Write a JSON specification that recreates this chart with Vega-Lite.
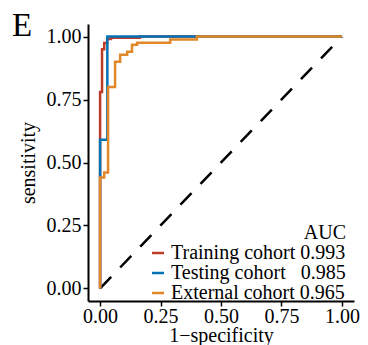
{
  "$schema": "https://vega.github.io/schema/vega-lite/v6.json",
  "autosize": "none",
  "width": 266,
  "height": 277,
  "padding": {"left": 88, "top": 24, "right": 14, "bottom": 44},
  "background": "white",
  "title": {"text": "E", "anchor": "start", "frame": "group", "font": "Liberation Serif", "fontSize": 33, "fontWeight": "normal", "color": "black", "baseline": "alphabetic", "offset": -45, "dx": -76},
  "config": {
    "view": {"stroke": null},
    "font": "Liberation Serif",
    "axis": {"grid": false, "domainColor": "black", "domainWidth": 2, "tickColor": "black", "tickWidth": 1.5, "tickSize": 5, "labelColor": "black", "labelFont": "Liberation Serif", "labelFontSize": 20, "titleFont": "Liberation Serif", "titleFontSize": 20, "titleFontWeight": "normal", "titleColor": "black", "labelPadding": 2}
  },
  "data": {"values": [
    {"cohort": "Training cohort", "fpr": 0, "tpr": 0},
    {"cohort": "Training cohort", "fpr": 0, "tpr": 0.78},
    {"cohort": "Training cohort", "fpr": 0.008, "tpr": 0.78},
    {"cohort": "Training cohort", "fpr": 0.008, "tpr": 0.95},
    {"cohort": "Training cohort", "fpr": 0.017, "tpr": 0.95},
    {"cohort": "Training cohort", "fpr": 0.017, "tpr": 0.975},
    {"cohort": "Training cohort", "fpr": 0.029, "tpr": 0.975},
    {"cohort": "Training cohort", "fpr": 0.029, "tpr": 0.99},
    {"cohort": "Training cohort", "fpr": 0.045, "tpr": 0.99},
    {"cohort": "Training cohort", "fpr": 0.045, "tpr": 0.995},
    {"cohort": "Training cohort", "fpr": 0.165, "tpr": 0.995},
    {"cohort": "Training cohort", "fpr": 0.165, "tpr": 1},
    {"cohort": "Training cohort", "fpr": 1, "tpr": 1},
    {"cohort": "Testing cohort", "fpr": 0, "tpr": 0},
    {"cohort": "Testing cohort", "fpr": 0, "tpr": 0.59},
    {"cohort": "Testing cohort", "fpr": 0.03, "tpr": 0.59},
    {"cohort": "Testing cohort", "fpr": 0.03, "tpr": 1},
    {"cohort": "Testing cohort", "fpr": 1, "tpr": 1},
    {"cohort": "External cohort", "fpr": 0, "tpr": 0},
    {"cohort": "External cohort", "fpr": 0, "tpr": 0.44},
    {"cohort": "External cohort", "fpr": 0.017, "tpr": 0.44},
    {"cohort": "External cohort", "fpr": 0.017, "tpr": 0.46},
    {"cohort": "External cohort", "fpr": 0.033, "tpr": 0.46},
    {"cohort": "External cohort", "fpr": 0.033, "tpr": 0.8},
    {"cohort": "External cohort", "fpr": 0.062, "tpr": 0.8},
    {"cohort": "External cohort", "fpr": 0.062, "tpr": 0.9},
    {"cohort": "External cohort", "fpr": 0.083, "tpr": 0.9},
    {"cohort": "External cohort", "fpr": 0.083, "tpr": 0.928},
    {"cohort": "External cohort", "fpr": 0.112, "tpr": 0.928},
    {"cohort": "External cohort", "fpr": 0.112, "tpr": 0.94},
    {"cohort": "External cohort", "fpr": 0.132, "tpr": 0.94},
    {"cohort": "External cohort", "fpr": 0.132, "tpr": 0.968},
    {"cohort": "External cohort", "fpr": 0.153, "tpr": 0.968},
    {"cohort": "External cohort", "fpr": 0.153, "tpr": 0.976},
    {"cohort": "External cohort", "fpr": 0.29, "tpr": 0.976},
    {"cohort": "External cohort", "fpr": 0.29, "tpr": 0.988},
    {"cohort": "External cohort", "fpr": 0.4, "tpr": 0.988},
    {"cohort": "External cohort", "fpr": 0.4, "tpr": 1},
    {"cohort": "External cohort", "fpr": 1, "tpr": 1},
    {"cohort": "diagonal", "fpr": 0, "tpr": 0},
    {"cohort": "diagonal", "fpr": 1, "tpr": 1}
  ]},
  "encoding": {
    "x": {"field": "fpr", "type": "quantitative", "scale": {"domain": [-0.05, 1.05], "nice": false, "zero": false}, "axis": {"values": [0, 0.25, 0.5, 0.75, 1], "format": ".2f", "title": "1\u2212specificity", "titlePadding": -1, "labelPadding": 0}},
    "y": {"field": "tpr", "type": "quantitative", "scale": {"domain": [-0.05, 1.05], "nice": false, "zero": false}, "axis": {"values": [0, 0.25, 0.5, 0.75, 1], "format": ".2f", "title": "sensitivity", "titlePadding": 8}},
    "order": {"value": null}
  },
  "layer": [
    {"transform": [{"filter": "datum.cohort == 'diagonal'"}], "mark": {"type": "line", "color": "black", "strokeWidth": 2.5, "strokeDash": [16, 13]}},
    {"transform": [{"filter": "datum.cohort == 'Training cohort'"}], "mark": {"type": "line", "strokeWidth": 2.5, "interpolate": "linear"},
     "encoding": {"color": {"field": "cohort", "type": "nominal", "scale": {"domain": ["Training cohort", "Testing cohort", "External cohort"], "range": ["#BC3C29", "#0072B5", "#E18727"]},
       "legend": {"orient": "none", "legendX": 60, "legendY": 199, "padding": 0, "title": "AUC", "titleAnchor": "end", "titleFont": "Liberation Serif", "titleFontSize": 20, "titleFontWeight": "normal", "titleColor": "black", "titlePadding": 0, "labelFont": "Liberation Serif", "labelFontSize": 20, "labelColor": "black", "labelOffset": 3, "symbolType": "stroke", "symbolSize": 144, "symbolStrokeWidth": 2.5, "rowPadding": 0, "labelLimit": 400,
         "labelExpr": "datum.label == 'Training cohort' ? 'Training cohort 0.993' : datum.label == 'Testing cohort' ? 'Testing cohort\u00a0\u00a0\u00a00.985' : 'External cohort 0.965'"}}}},
    {"transform": [{"filter": "datum.cohort == 'Testing cohort'"}], "mark": {"type": "line", "strokeWidth": 2.5}, "encoding": {"color": {"field": "cohort", "type": "nominal"}}},
    {"transform": [{"filter": "datum.cohort == 'External cohort'"}], "mark": {"type": "line", "strokeWidth": 2.5}, "encoding": {"color": {"field": "cohort", "type": "nominal"}}}
  ]
}
